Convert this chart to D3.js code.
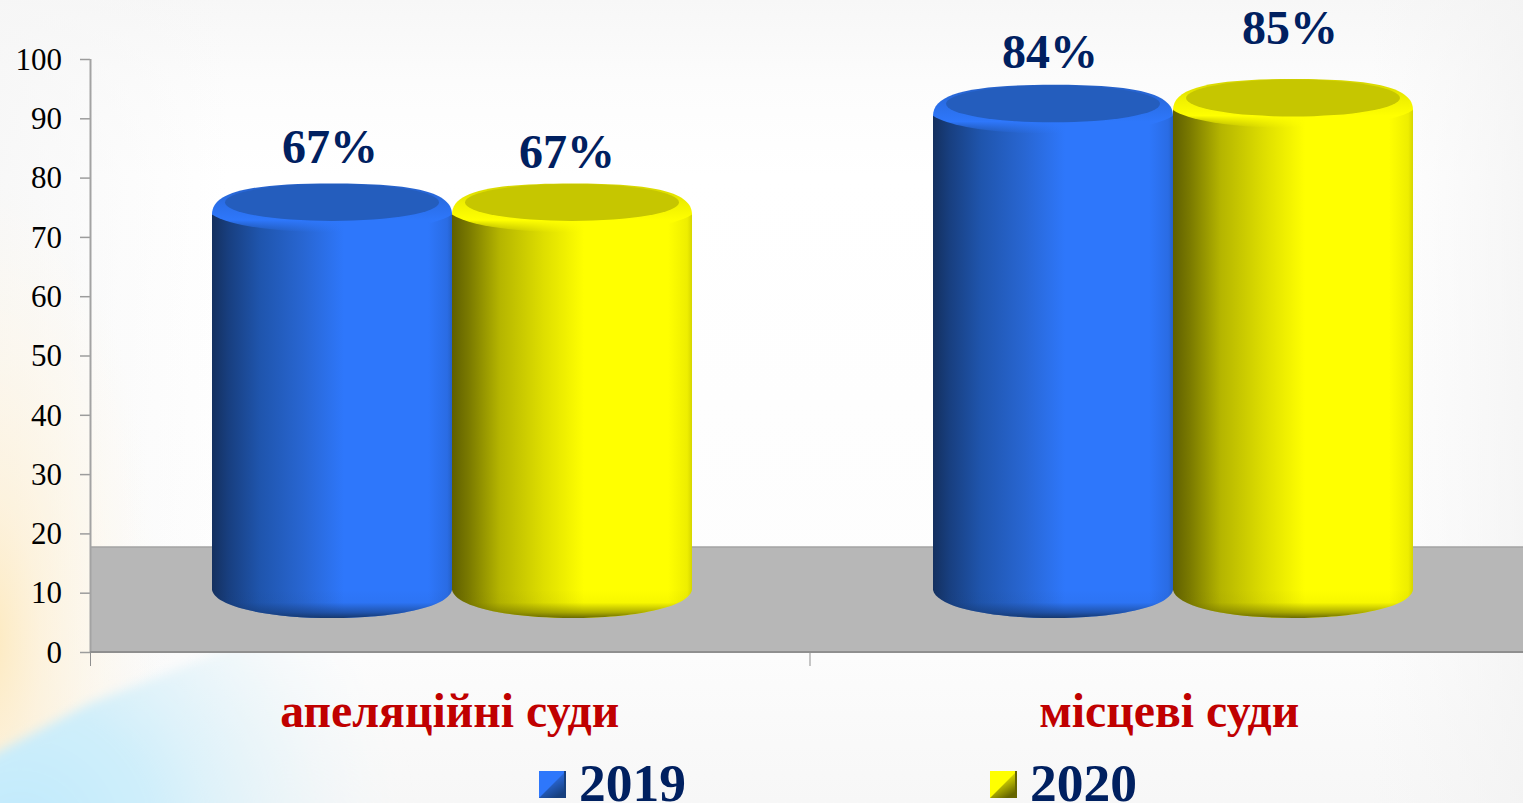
<!DOCTYPE html>
<html><head><meta charset="utf-8">
<script src="https://cdn.jsdelivr.net/npm/d3@7"></script>
<style>
html,body{margin:0;padding:0;background:#fff;overflow:hidden}
svg{display:block}
text{font-family:"Liberation Serif","Times New Roman",serif}
</style></head><body>
<svg id="c" width="1523" height="803"></svg>
<script>
const categories = ["апеляційні суди", "місцеві суди"];
const seriesNames = ["2019", "2020"];
const values2019 = [67, 84];
const values2020 = [67, 85];
const labels2019 = ["67%", "84%"];
const labels2020 = ["67%", "85%"];
const yTicks = [0,10,20,30,40,50,60,70,80,90,100];

const W = 1523, H = 803;
const svg = d3.select("#c");
const defs = svg.append("defs");

function lin(id, x1,y1,x2,y2, stops){
  const g = defs.append("linearGradient").attr("id",id)
    .attr("x1",x1).attr("y1",y1).attr("x2",x2).attr("y2",y2);
  stops.forEach(s=>g.append("stop").attr("offset",s[0]).attr("stop-color",s[1]).attr("stop-opacity",s[2]===undefined?1:s[2]));
  return g;
}
function rad(id,cx,cy,r,stops){
  const g = defs.append("radialGradient").attr("id",id).attr("gradientUnits","userSpaceOnUse")
    .attr("cx",cx).attr("cy",cy).attr("r",r);
  stops.forEach(s=>g.append("stop").attr("offset",s[0]).attr("stop-color",s[1]).attr("stop-opacity",s[2]));
  return g;
}
// background
lin("bgV",0,0,0,1,[[0,"#f7f7f7"],[0.1,"#fcfcfc"],[0.22,"#ffffff"],[0.78,"#fdfdfd"],[1,"#f7f7f7"]]);
svg.append("rect").attr("width",W).attr("height",H).attr("fill","url(#bgV)");
lin("bgL",0,0,1,0,[[0,"#f6f6f6",0.8],[0.15,"#f6f6f6",0],[0.9,"#f4f4f4",0],[1,"#f2f2f2",0.7]]);
svg.append("rect").attr("width",W).attr("height",H).attr("fill","url(#bgL)");
const orange = rad("orange",-10,640,170,[[0,"#ffe6b0",0.8],[0.3,"#ffefcf",0.65],[0.65,"#fff6e4",0.45],[1,"#fff8ec",0]]);
orange.attr("gradientTransform","translate(0,640) scale(1,2.7) translate(0,-640)");
svg.append("rect").attr("width",320).attr("height",H).attr("fill","url(#orange)");
defs.append("filter").attr("id","blur").attr("x","-30%").attr("y","-30%").attr("width","160%").attr("height","160%")
  .append("feGaussianBlur").attr("stdDeviation",6);
rad("blue",20,840,390,[[0,"#bfeafd",1],[0.35,"#cdeefb",0.95],[0.7,"#e4f3f9",0.55],[1,"#f4f8fa",0]]);
svg.append("g").attr("filter","url(#blur)").append("path")
  .attr("d","M-40,772 L90,703 L330,610 L620,640 L620,860 L-40,860 Z")
  .attr("fill","url(#blue)");

// scales
const x0 = 90;
const xBand = d3.scaleBand().domain(categories).range([x0,1529]);
const xBarBand = d3.scaleBand().domain(categories).range([x0,1532]);
const xSeries = d3.scaleBand().domain(seriesNames).range([122,602]);
const yAxisScale = d3.scaleLinear().domain([0,100]).range([652,59]);
const yBar = d3.scaleLinear().domain([0,100]).range([590,10]);

// floor
const floorY = 547;
svg.append("rect").attr("x",x0).attr("y",floorY).attr("width",W-x0).attr("height",652-floorY).attr("fill","#b7b7b7");
svg.append("line").attr("x1",x0).attr("x2",W).attr("y1",floorY).attr("y2",floorY).attr("stroke","#a3a3a3").attr("stroke-width",1.5);

// axes
const axG = svg.append("g").attr("transform",`translate(${x0},0)`)
  .call(d3.axisLeft(yAxisScale).tickValues(yTicks).tickSize(10).tickPadding(18));
axG.select(".domain").remove();
axG.selectAll(".tick line").attr("stroke","#9c9c9c").attr("stroke-width",1.5);
axG.selectAll(".tick text").attr("fill","#000").style("font-size","31px").attr("dy","0.33em")
   .style("font-family",'"Liberation Serif",serif');
svg.append("line").attr("x1",x0+.5).attr("x2",x0+.5).attr("y1",59).attr("y2",652).attr("stroke","#a3a3a3").attr("stroke-width",2);
svg.append("line").attr("x1",x0).attr("x2",W).attr("y1",652).attr("y2",652).attr("stroke","#8f8f8f").attr("stroke-width",2);
categories.forEach(c=>{
  const px = xBand(c);
  svg.append("line").attr("x1",px+.5).attr("x2",px+.5).attr("y1",652).attr("y2",666).attr("stroke","#8f8f8f").attr("stroke-width",1);
});

// series gradients
const styles = {
 "2019":{side:[[0,"#14305f"],[0.07,"#183f80"],[0.2,"#1f55ad"],[0.38,"#2866d2"],[0.55,"#2e77fb"],[0.9,"#2e77fb"],[0.98,"#2a6ce4"],[1,"#2560c8"]],
   capEdge:"#2660c6",capMid:"#2a6ee8",capInner:"#245dbd",rim:"#2e77fb",bottom:"#15386f",legend:"#2e77fb",dark:"#17407f",mid:"#2a68d8"},
 "2020":{side:[[0,"#5f5f00"],[0.07,"#7a7a00"],[0.2,"#b5b500"],[0.38,"#dede00"],[0.55,"#ffff00"],[0.9,"#ffff00"],[0.98,"#eeee00"],[1,"#d6d600"]],
   capEdge:"#d2d200",capMid:"#f0f000",capInner:"#c6c600",rim:"#ffff00",bottom:"#6a6a00",legend:"#ffff00",dark:"#666600",mid:"#d8d800"}
};
seriesNames.forEach(s=>{
  const st = styles[s];
  lin("side"+s,0,0,1,0,st.side);
  lin("bot"+s,0,0,0,1,[[0,st.bottom,0],[0.45,st.bottom,0.05],[0.8,st.bottom,0.55],[1,st.bottom,1]]);
  lin("rim"+s,0,0,0,1,[[0,st.capEdge,1],[0.4,st.capMid,1],[0.75,st.rim,1],[1,st.rim,0]]);
  lin("leg"+s,0,0,0.6,1,[[0,st.legend],[0.45,st.mid],[1,st.dark]]);
});

const rows = [
  {s:"2019", vals:values2019, labels:labels2019, lx:[-2,-3], ly:[20,17]},
  {s:"2020", vals:values2020, labels:labels2020, lx:[-5,-3], ly:[15,35]}
];
const rx = 120, ryB = 28;
rows.forEach(r=>{
  categories.forEach((c,i)=>{
    const v = r.vals[i], st = styles[r.s];
    const cx = xBarBand(c)+xSeries(r.s)+xSeries.bandwidth()/2;
    const top = yBar(v), base = yBar(0);
    const g = svg.append("g");
    const bottomCurve = `L${cx-rx},${base} C${cx-rx+4},${base+18} ${cx-rx*0.5},${base+ryB} ${cx},${base+ryB} C${cx+rx*0.5},${base+ryB} ${cx+rx-4},${base+18} ${cx+rx},${base}`;
    g.append("path").attr("d",`M${cx-rx},${top+12} ${bottomCurve} L${cx+rx},${top+12} Z`).attr("fill",`url(#side${r.s})`);
    g.append("path").attr("d",`M${cx-rx},${base} ${bottomCurve} Z`).attr("fill",`url(#bot${r.s})`);
    // rounded rim
    g.append("path").attr("d",`M${cx-rx},${top+13} C${cx-rx},${top-9} ${cx-rx*0.7},${top-18} ${cx},${top-18} C${cx+rx*0.7},${top-18} ${cx+rx},${top-9} ${cx+rx},${top+13} C${cx+rx*0.7},${top+37} ${cx-rx*0.7},${top+37} ${cx-rx},${top+13} Z`)
      .attr("fill",`url(#rim${r.s})`);
    // cap face
    g.append("ellipse").attr("cx",cx).attr("cy",top+1).attr("rx",rx-13).attr("ry",18.5).attr("fill",st.capInner);
    // data label
    svg.append("text").attr("x",cx+r.lx[i]).attr("y",top-18-r.ly[i])
      .attr("text-anchor","middle").attr("fill","#002060").attr("font-weight","bold")
      .style("font-size","48px").text(r.labels[i]);
  });
});

// category labels
categories.forEach(c=>{
  svg.append("text").attr("x",xBand(c)+xBand.bandwidth()/2).attr("y",727)
    .attr("text-anchor","middle").attr("fill","#c00000").attr("font-weight","bold")
    .style("font-size","47.8px").text(c);
});

// legend
const legendX = d3.scaleOrdinal().domain(seriesNames).range([539,990]);
seriesNames.forEach(s=>{
  const lx = legendX(s), ly = 771, sz = 27;
  const st = styles[s];
  const g = svg.append("g").attr("transform",`translate(${lx},${ly})`);
  g.append("rect").attr("width",sz).attr("height",sz).attr("fill",`url(#leg${s})`);
  g.append("path").attr("d",`M0,0 L${sz},0 L0,${sz} Z`).attr("fill",st.legend);
  g.append("rect").attr("x",sz-2).attr("width",2).attr("height",sz).attr("fill",st.dark);
  svg.append("text").attr("x",lx+40).attr("y",801).attr("fill","#002060").attr("font-weight","bold")
    .style("font-size","53.5px").text(s);
});
</script>
</body></html>
